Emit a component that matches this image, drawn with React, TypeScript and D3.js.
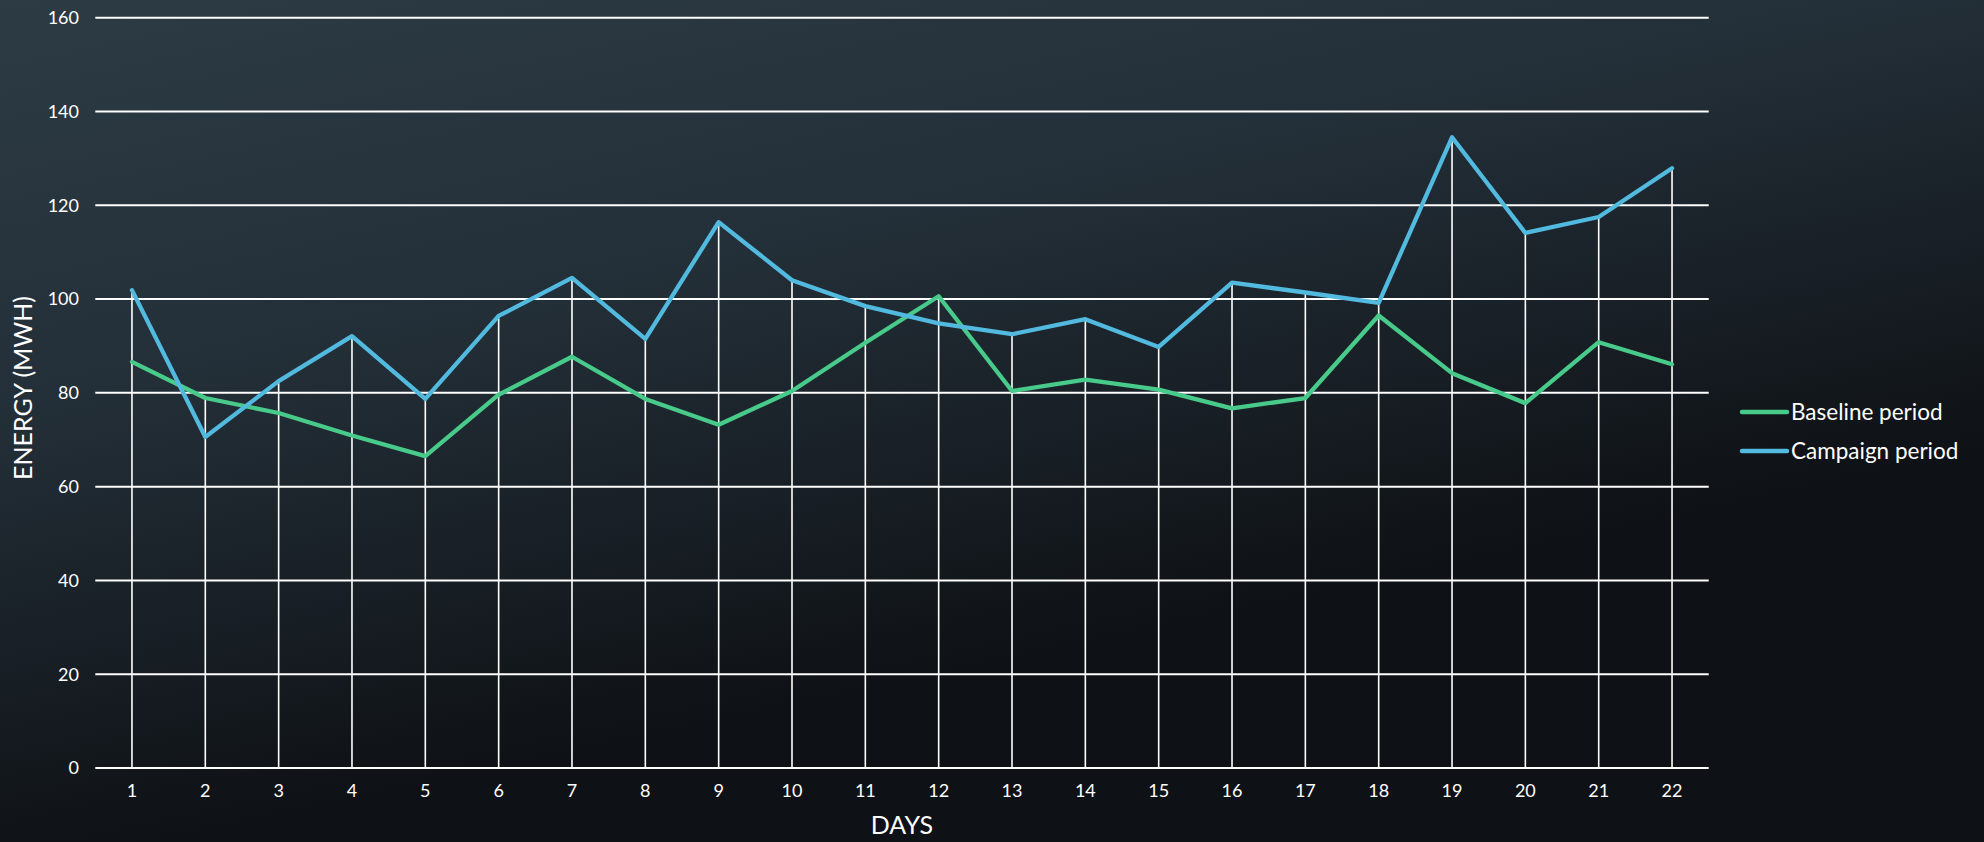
import React, { useEffect, useRef } from 'react';
import * as d3 from 'd3';

const days = d3.range(1, 23).map(String);
const baseline = [86.6, 78.9, 75.7, 70.9, 66.5, 79.6, 87.7, 78.7, 73.2, 80.4, 90.7, 100.6, 80.4, 82.8, 80.7, 76.7, 78.9, 96.5, 84.2, 77.8, 90.8, 86.1];
const campaign = [101.9, 70.6, 82.5, 92.1, 78.7, 96.4, 104.5, 91.5, 116.4, 104.0, 98.5, 94.8, 92.5, 95.7, 89.8, 103.5, 101.4, 99.2, 134.5, 114.1, 117.5, 127.9];
const yTicks = [0, 20, 40, 60, 80, 100, 120, 140, 160];
const seriesNames = ['Baseline period', 'Campaign period'];

const width = 1984;
const height = 842;
const font = 'Lato, "Open Sans", sans-serif';
const green = '#48CA8B';
const blue = '#52B9DF';

export default function App() {
    const ref = useRef<SVGSVGElement>(null);

    useEffect(() => {
        const svg = d3.select(ref.current);
        svg.selectAll('*').remove();

        const left = 95.3, right = 1708.7, top = 17.7, bottom = 768;

        const x = d3.scalePoint().domain(days).range([left, right]).padding(0.5);
        const y = d3.scaleLinear().domain([0, 160]).range([bottom, top]);

        // background
        const defs = svg.append('defs');
        const grad = defs.append('linearGradient')
            .attr('id', 'bg')
            .attr('gradientUnits', 'userSpaceOnUse')
            .attr('x1', 0).attr('y1', 0)
            .attr('x2', 180).attr('y2', height);
        grad.append('stop').attr('offset', 0).attr('stop-color', '#2c3b44');
        grad.append('stop').attr('offset', 0.45).attr('stop-color', '#243039');
        grad.append('stop').attr('offset', 1).attr('stop-color', '#0e1115');
        svg.append('rect').attr('width', width).attr('height', height).attr('fill', 'url(#bg)');

        // horizontal grid
        svg.append('g').selectAll('line').data(yTicks).enter()
            .append('line')
            .attr('x1', left).attr('x2', right)
            .attr('y1', d => y(d)).attr('y2', d => y(d))
            .attr('stroke', '#ffffff').attr('stroke-width', 2);

        // drop lines to the highest point of each day
        svg.append('g').selectAll('line').data(days).enter()
            .append('line')
            .attr('x1', d => x(d)!).attr('x2', d => x(d)!)
            .attr('y1', bottom)
            .attr('y2', (d, i) => y(Math.max(baseline[i], campaign[i])))
            .attr('stroke', '#ffffff').attr('stroke-width', 1.6);

        // y tick labels
        svg.append('g').selectAll('text').data(yTicks).enter()
            .append('text')
            .attr('x', 79).attr('y', d => y(d))
            .attr('dy', '0.35em')
            .attr('text-anchor', 'end')
            .attr('fill', '#ffffff')
            .style('font-family', font).style('font-size', '18px')
            .text(d => d);

        // x tick labels
        svg.append('g').selectAll('text').data(days).enter()
            .append('text')
            .attr('x', d => x(d)!).attr('y', 791)
            .attr('dy', '0.35em')
            .attr('text-anchor', 'middle')
            .attr('fill', '#ffffff')
            .style('font-family', font).style('font-size', '18px')
            .text(d => d);

        const line = d3.line<number>()
            .x((d, i) => x(days[i])!)
            .y(d => y(d));

        [baseline, campaign].forEach((s, k) => {
            svg.append('path')
                .attr('d', line(s))
                .attr('fill', 'none')
                .attr('stroke', k === 0 ? green : blue)
                .attr('stroke-width', 4.3)
                .attr('stroke-linejoin', 'round')
                .attr('stroke-linecap', 'round');
        });

        // axis titles
        svg.append('text')
            .attr('x', (left + right) / 2).attr('y', 825)
            .attr('dy', '0.35em')
            .attr('text-anchor', 'middle')
            .attr('fill', '#ffffff')
            .style('font-family', font).style('font-size', '25px')
            .text('DAYS');

        svg.append('text')
            .attr('transform', `translate(23, 388) rotate(-90)`)
            .attr('dy', '0.35em')
            .attr('text-anchor', 'middle')
            .attr('fill', '#ffffff')
            .style('font-family', font).style('font-size', '25px')
            .text('ENERGY (MWH)');

        // legend
        const legend = svg.append('g').selectAll('g').data(seriesNames).enter()
            .append('g')
            .attr('transform', (d, i) => `translate(1742, ${412 + i * 39})`);
        legend.append('line')
            .attr('x1', 0).attr('x2', 45)
            .attr('stroke', (d, i) => (i === 0 ? green : blue))
            .attr('stroke-width', 4.5)
            .attr('stroke-linecap', 'round');
        legend.append('text')
            .attr('x', 49).attr('dy', '0.35em')
            .attr('fill', '#ffffff')
            .style('font-family', font).style('font-size', '22.5px')
            .text(d => d);
    }, []);

    return (
        <svg ref={ref} width={width} height={height}
            style={{ position: 'absolute', left: 0, top: 0, display: 'block' }} />
    );
}
